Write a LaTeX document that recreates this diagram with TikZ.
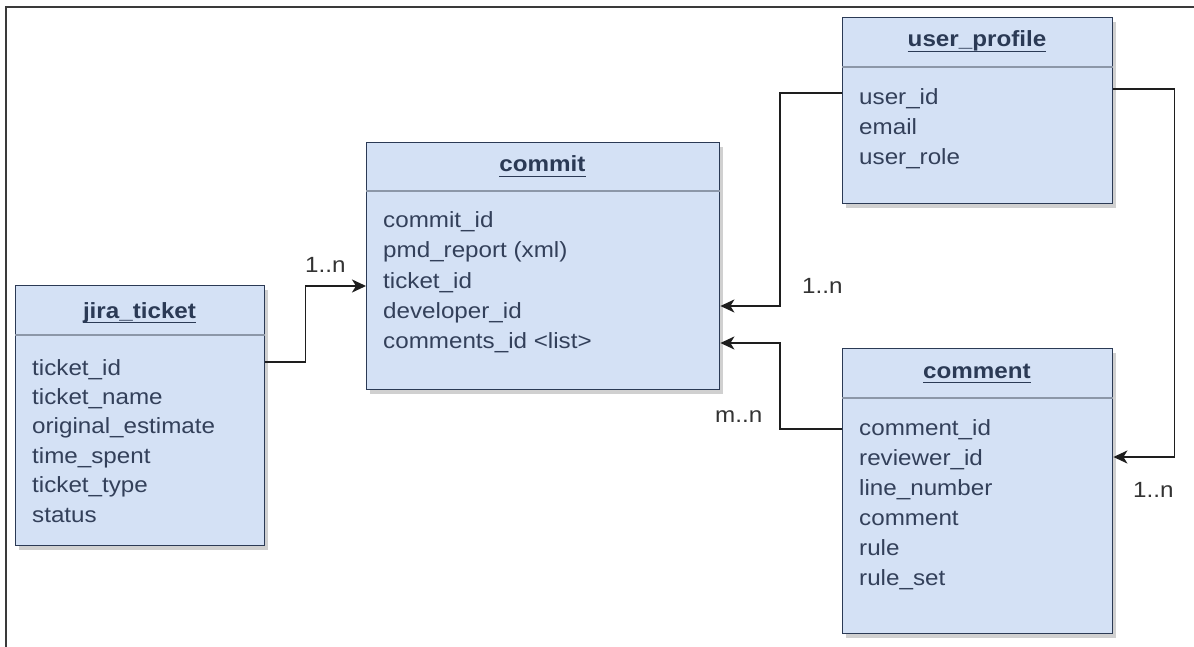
\documentclass[tikz,border=0pt]{standalone}
\usepackage{fontspec}
\setmainfont{Liberation Sans}[FakeStretch=1.1]
\usetikzlibrary{arrows.meta,shadows}
\definecolor{boxfill}{HTML}{D4E1F5}
\definecolor{boxline}{HTML}{2B3A55}
\definecolor{sepline}{HTML}{8C97A8}
\definecolor{txt}{HTML}{33405A}
\definecolor{wire}{HTML}{1E1E1E}
\definecolor{framec}{HTML}{3A3A3A}
\definecolor{lbl}{HTML}{333333}
\begin{document}
\begin{tikzpicture}[x=1pt,y=-1pt,
  entity/.style={draw=boxline, fill=boxfill, line width=1.4pt, anchor=north west,
    inner sep=0pt, drop shadow={shadow xshift=3pt, shadow yshift=-4pt, opacity=0.3, fill=black!60}},
  sepln/.style={draw=sepline, line width=1.2pt},
  title/.style={anchor=base, inner sep=0pt, text=boxline, font=\fontsize{22pt}{29.5pt}\selectfont\bfseries},
  uline/.style={draw=boxline, line width=1.4pt},
  row/.style={anchor=base west, inner sep=0pt, text=txt, font=\fontsize{22pt}{29.5pt}\selectfont},
  card/.style={anchor=base west, inner sep=0pt, text=lbl, font=\fontsize{22pt}{29.5pt}\selectfont},
  wire/.style={draw=wire, line width=1.8pt, -{Stealth[length=14pt,width=13pt,inset=4pt]}}
]
\useasboundingbox (0,0) rectangle (1194,647);
\fill[white] (0,0) rectangle (1194,647);
% outer frame (top and left edges)
\draw[framec, line width=1.4pt] (6,647) -- (6,7) -- (1194,7);

% entity boxes
\node[entity, minimum width=249pt, minimum height=260pt] (jira) at (15,285) {};
\node[entity, minimum width=353pt, minimum height=247pt] (commit) at (366,142) {};
\node[entity, minimum width=270pt, minimum height=186pt] (user) at (842,17) {};
\node[entity, minimum width=270pt, minimum height=285pt] (comment) at (842,348) {};

% header separators
\draw[sepln] ([yshift=-50pt]jira.north west) -- ([yshift=-50pt]jira.north east);
\draw[sepln] ([yshift=-49pt]commit.north west) -- ([yshift=-49pt]commit.north east);
\draw[sepln] ([yshift=-50pt]user.north west) -- ([yshift=-50pt]user.north east);
\draw[sepln] ([yshift=-50pt]comment.north west) -- ([yshift=-50pt]comment.north east);

% titles
\node[title] (jiraT) at (139.5,318) {jira\_ticket};
\node[title] (commitT) at (542.5,172) {commit};
\node[title] (userT) at (977,47) {user\_profile};
\node[title] (commentT) at (977,378) {comment};
\foreach \t in {jiraT,commitT,userT,commentT}
  \draw[uline] ([yshift=-4.5pt]\t.base west) -- ([yshift=-4.5pt]\t.base east);

% attributes
\foreach \s [count=\i from 0] in {ticket\_id, ticket\_name, original\_estimate, time\_spent, ticket\_type, status}
  \node[row] (jira-r\i) at (32,375+29.4*\i) {\s};
\foreach \s [count=\i from 0] in {commit\_id, pmd\_report (xml), ticket\_id, developer\_id, comments\_id <list>}
  \node[row] (commit-r\i) at (383,228+30*\i) {\s};
\foreach \s [count=\i from 0] in {user\_id, email, user\_role}
  \node[row] (user-r\i) at (859,105+30*\i) {\s};
\foreach \s [count=\i from 0] in {comment\_id, reviewer\_id, line\_number, comment, rule, rule\_set}
  \node[row] (comment-r\i) at (859,435+30*\i) {\s};

% relationships
\draw[wire] ([yshift=-77pt]jira.north east) -- ++(40pt,0) |- ([yshift=-144pt]commit.north west);
\draw[wire] ([yshift=-76pt]user.north west) -- ++(-62pt,0) |- ([yshift=-164pt]commit.north east);
\draw[wire] ([yshift=-81pt]comment.north west) -- ++(-62pt,0) |- ([yshift=-201pt]commit.north east);
\draw[wire] ([yshift=-72pt]user.north east) -- ++(61pt,0) |- ([yshift=-109pt]comment.north east);

% cardinalities
\node[card] (c1) at (305,272) {1..n};
\node[card] (c2) at (802,293) {1..n};
\node[card] (c3) at (715,422) {m..n};
\node[card] (c4) at (1133,497) {1..n};
\end{tikzpicture}
\end{document}
